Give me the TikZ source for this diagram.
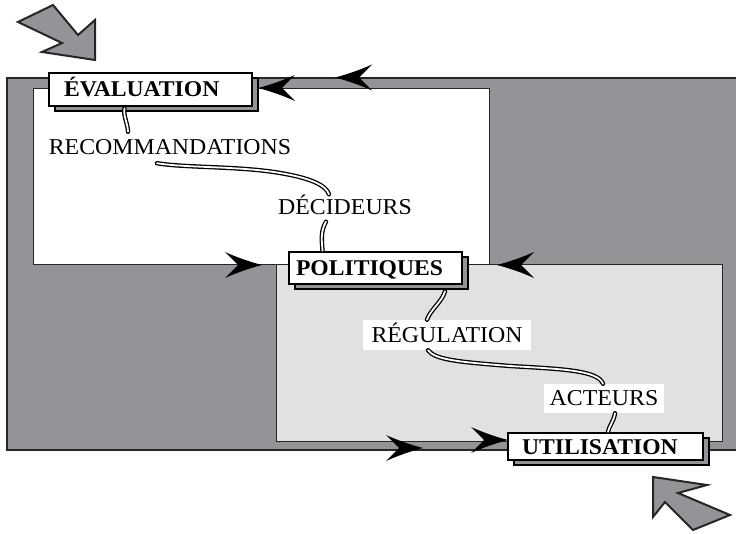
\documentclass[tikz,border=0pt]{standalone}
\usepackage{fontspec}
\setmainfont{Liberation Serif}[FakeStretch=1.05]
\usetikzlibrary{shadows}

\definecolor{boardgray}{RGB}{147,148,152}
\definecolor{panelgray}{RGB}{224,225,227}

\tikzset{
  board/.style={fill=boardgray, draw=black!85, line width=1.5pt},
  panel/.style={draw=black!85, line width=1pt},
  tagbox/.style={draw=black, line width=2.5pt, fill=white, inner sep=0pt,
    align=left, text height=15pt, text depth=0pt,
    font=\bfseries\fontsize{22.5}{26}\selectfont,
    general shadow={shadow xshift=6pt, shadow yshift=-5pt,
      fill=boardgray, draw=black, line width=1.5pt}},
  lbl/.style={inner sep=0pt, text height=15pt, text depth=0pt,
    font=\fontsize{22.7}{26}\selectfont},
  whitelbl/.style={lbl, fill=white},
  ribbon/.style={draw=black, line width=1.3pt, double=white,
    double distance=1.8pt, line cap=round},
  bigarrow/.style={fill=boardgray, draw=black!85, line width=2pt,
    line join=miter},
  barb/.pic={\fill[black] (0,0) .. controls (-12,-3) and (-26,-8) .. (-37,-13)
      -- (-24,0) -- (-37,13) .. controls (-26,8) and (-12,3) .. (0,0) -- cycle;}
}

\begin{document}
\begin{tikzpicture}[x=1pt,y=-1pt]
\useasboundingbox (0,0) rectangle (736,534);

% background board and its two panels
\path[board] (7,78) rectangle (745,450);
\path[panel, fill=white] (33,89) rectangle (489,265);
\path[panel, fill=panelgray] (276,265) rectangle (722,441);

% framed stage labels
\node[tagbox, text width=203pt, minimum height=33pt] (eval) at (150.5,89.5)
  {\hspace*{15pt}ÉVALUATION};
\node[tagbox, text width=173pt, minimum height=32pt] (pol) at (375.5,268)
  {\hspace*{7pt}POLITIQUES};
\node[tagbox, text width=195pt, minimum height=27pt] (util) at (605.5,446.5)
  {\hspace*{14pt}UTILISATION};

% intermediate labels
\node[lbl] (recom) at (170,147.5) {RECOMMANDATIONS};
\node[lbl] (dec) at (345,207) {DÉCIDEURS};
\node[whitelbl, minimum width=168pt, minimum height=30pt] (reg) at (447,335) {RÉGULATION};
\node[whitelbl, minimum width=120pt, minimum height=29pt] (act) at (604,398.5) {ACTEURS};

% ribbons linking the stages
\draw[ribbon] ([shift={(-26,1)}]eval.south) .. controls (123,116) and (128,124)
  .. ([shift={(-42,-8)}]recom.north);
\draw[ribbon] ([shift={(-13,8)}]recom.south) .. controls (185,168) and (240,166)
  .. (280,173) .. controls (310,178) and (326,185) .. ([shift={(-16,-5)}]dec.north);
\draw[ribbon] ([shift={(-19,7)}]dec.south) .. controls (320,232) and (322,242)
  .. ([shift={(-53,0)}]pol.north);
\draw[ribbon] ([shift={(69.5,6)}]pol.south) .. controls (442,302) and (430,310)
  .. ([shift={(-20,0)}]reg.north);
\draw[ribbon] ([shift={(-19,0)}]reg.south) .. controls (435,360) and (460,362)
  .. (510,366) .. controls (560,369) and (598,370) .. ([shift={(-1,0)}]act.north);
\draw[ribbon] ([shift={(11,0)}]act.south) .. controls (614,421) and (609,426)
  .. ([shift={(2.5,0)}]util.north);

% barbed heads along the board edges
\path (258,88) pic[rotate=180] {barb};
\path (335,77.5) pic[rotate=180] {barb};
\path (262,265) pic {barb};
\path (497,265) pic[rotate=180] {barb};
\path (423,448) pic {barb};
\path (508,440) pic {barb};

% entry and exit block arrows
\draw[bigarrow] (18,22) -- (53,5) -- (78,35) -- (95,20) -- (95,60) -- (42,52)
  -- (62,43) -- cycle;
\draw[bigarrow] (653,477) -- (707,485) -- (678,493) -- (730,515) -- (693,530)
  -- (665,502) -- (653,517) -- cycle;
\end{tikzpicture}
\end{document}
